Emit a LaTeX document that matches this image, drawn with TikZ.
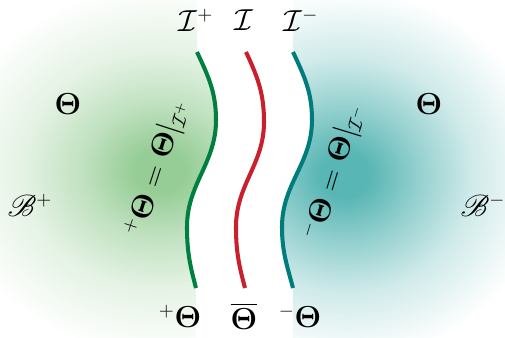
\documentclass[tikz,border=0pt]{standalone}
\usepackage{amsmath,amssymb}
\usepackage{mathrsfs}
\usepackage{tikz}
\usetikzlibrary{positioning,backgrounds}
\definecolor{plusInk}{RGB}{0,128,64}
\definecolor{nullInk}{RGB}{200,32,44}
\definecolor{minusInk}{RGB}{0,124,124}
\definecolor{plusGlow}{RGB}{150,205,150}
\definecolor{minusGlow}{RGB}{88,182,180}
\pgfdeclareradialshading{plusglow}{\pgfpointorigin}{%
  color(0bp)=(plusGlow); color(3bp)=(plusGlow); color(9bp)=(plusGlow!60!white);
  color(16bp)=(plusGlow!25!white); color(25bp)=(white); color(50bp)=(white)}
\pgfdeclareradialshading{minusglow}{\pgfpointorigin}{%
  color(0bp)=(minusGlow); color(3bp)=(minusGlow); color(9bp)=(minusGlow!65!white);
  color(16bp)=(minusGlow!28!white); color(25bp)=(white); color(50bp)=(white)}
\newcommand{\Th}{\boldsymbol{\Theta}}

\begin{document}
\begin{tikzpicture}[
  x=0.02cm, y=0.02cm,
  font=\fontsize{16}{19}\selectfont,
  wave/.style ={line width=2.3pt, line cap=butt},
  lbl/.style  ={inner sep=1pt, text=black},
  slant/.style={inner sep=0pt, text=black},
]
\useasboundingbox (0,0) rectangle (505,338);

% ================= ANCHORS OF THE THREE CURVES =================
\coordinate (pTop)  at (197,286);
\coordinate (pPeak) at (216,218);
\coordinate (pDip)  at (187,111);
\coordinate (pBot)  at (196,50);
\coordinate (nTop)  at (246,286);
\coordinate (nPeak) at (264,216);
\coordinate (nDip)  at (236,111);
\coordinate (nBot)  at (245,50);
\coordinate (mTop)  at (293,286);
\coordinate (mPeak) at (312,218);
\coordinate (mDip)  at (282,111);
\coordinate (mBot)  at (293,50);

% ================= GLOWS (clipped by the outer curves) =================
\begin{scope}[on background layer]
  \begin{scope}
    \clip (0,338) -- (pTop |- 0,338) -- (pTop) to[out=-65,in=90] (pPeak)
      to[out=-90,in=90] (pDip) to[out=-90,in=105] (pBot) -- (pBot |- 0,0)
      -- (0,0) -- cycle;
    \shade[shading=plusglow] (160,168) ellipse [x radius=215, y radius=185];
  \end{scope}
  \begin{scope}
    \clip (505,338) -- (mTop |- 0,338) -- (mTop) to[out=-65,in=90] (mPeak)
      to[out=-90,in=90] (mDip) to[out=-90,in=105] (mBot) -- (mBot |- 0,0)
      -- (505,0) -- cycle;
    \shade[shading=minusglow] (345,163) ellipse [x radius=200, y radius=185];
  \end{scope}
\end{scope}

% ================= CURVES =================
\draw[wave, plusInk]  (pTop) to[out=-65,in=90] (pPeak) to[out=-90,in=90] (pDip)
  to[out=-90,in=105] (pBot);
\draw[wave, nullInk]  (nTop) to[out=-65,in=90] (nPeak) to[out=-90,in=90] (nDip)
  to[out=-90,in=105] (nBot);
\draw[wave, minusInk] (mTop) to[out=-65,in=90] (mPeak) to[out=-90,in=90] (mDip)
  to[out=-90,in=105] (mBot);

% ================= LABELS =================
\node[lbl] (scriPlus)  at (196,318) {$\mathcal{I}^{+}$};
\node[lbl] (scriNull)  at (244,318) {$\mathcal{I}$};
\node[lbl] (scriMinus) at (301,318) {$\mathcal{I}^{-}$};

\node[lbl] (thLeft)  at (68,234)  {$\Th$};
\node[lbl] (thRight) at (429,234) {$\Th$};
\node[lbl] (bPlus)   at (30,133)  {$\mathscr{B}^{+}$};
\node[lbl] (bMinus)  at (483,133) {$\mathscr{B}^{-}$};

\node[lbl] (thPlus)  at (180,22) {${}^{+}\Th$};
\node[lbl] (thBar)   at (244,22) {$\overline{\Th}$};
\node[lbl] (thMinus) at (300,22) {${}^{-}\Th$};

\node[slant, rotate=72] (eqPlus)  at (158,170)
  {${}^{+}\Th = \Th|_{\mathcal{I}^{+}}$};
\node[slant, rotate=73] (eqMinus) at (335,166)
  {${}^{-}\Th = \Th|_{\mathcal{I}^{-}}$};

\end{tikzpicture}
\end{document}
